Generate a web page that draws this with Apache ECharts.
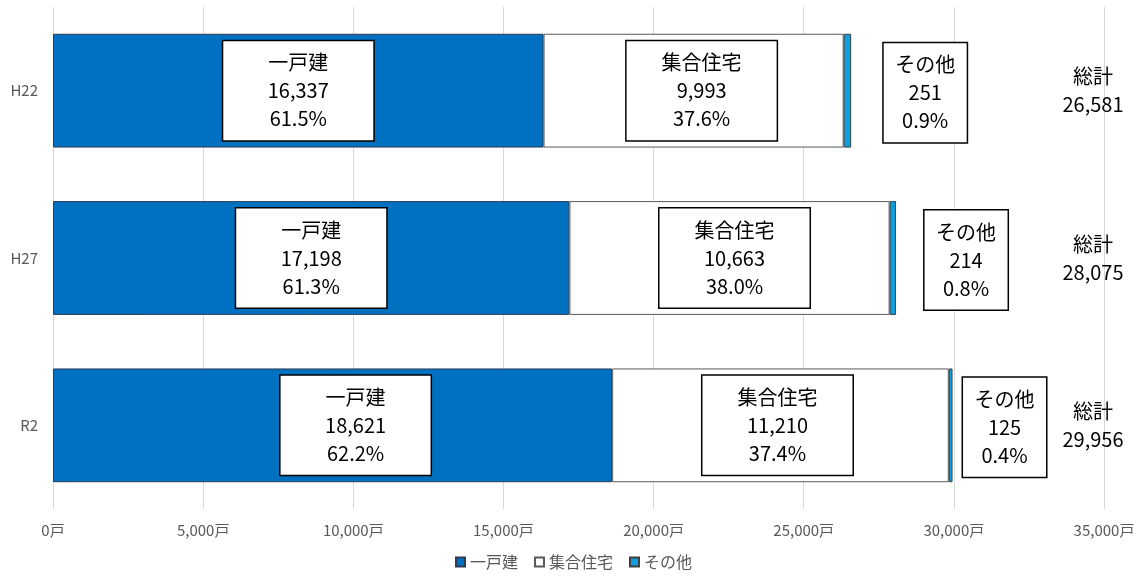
<!DOCTYPE html>
<html>
<head>
<meta charset="utf-8">
<script src="https://cdn.jsdelivr.net/npm/echarts@6/dist/echarts.min.js"></script>
<style>
  html, body { margin: 0; padding: 0; background: #fff; }
  #main { width: 1147px; height: 577px; }
</style>
</head>
<body>
<div id="main"></div>
<script>
// 年度
const categories = ['H22', 'H27', 'R2']
// 一戸建・集合住宅・その他 (戸)
const detached = [16337, 17198, 18621]
const apartment = [9993, 10663, 11210]
const other = [251, 214, 125]
const xTicks = [0, 5000, 10000, 15000, 20000, 25000, 30000, 35000]

// label nudges (px)
const detachedShift = [0, 0, 23]
const apartmentShift = [8, 5, -3]
const otherGap = [32, 28, 10]
const otherBoxW = 84

const totals = categories.map((c, i) => detached[i] + apartment[i] + other[i])
const FONT = '"Noto Sans CJK JP", "Noto Sans", sans-serif'
const fmt = v => v.toLocaleString('en-US')

function boxLabel(name, w) {
    return {
        show: true,
        color: '#000',
        fontFamily: FONT,
        fontSize: 20,
        lineHeight: 28,
        backgroundColor: '#fff',
        borderColor: '#000',
        borderWidth: 1.5,
        width: w,
        height: 84,
        padding: [9, 0, 6, 0],
        align: 'center',
        formatter: p => name + '\n' + fmt(p.value) + '\n' +
            (p.value / totals[p.dataIndex] * 100).toFixed(1) + '%'
    }
}

let myChart = echarts.init(document.getElementById('main'))
let option = {
    backgroundColor: '#fff',
    animation: false,
    grid: {
        left: 53,
        right: 43,
        top: 7,
        bottom: 68
    },
    legend: {
        bottom: 2,
        left: 'center',
        itemWidth: 9,
        itemHeight: 9,
        itemGap: 16,
        icon: 'rect',
        data: ['一戸建', '集合住宅', 'その他'],
        textStyle: { color: '#595959', fontSize: 16, fontFamily: FONT }
    },
    xAxis: {
        type: 'value',
        min: xTicks[0],
        max: xTicks[xTicks.length - 1],
        interval: 5000,
        axisLine: { show: false },
        axisTick: { show: false },
        splitLine: { lineStyle: { color: '#D9D9D9', width: 1 } },
        axisLabel: {
            color: '#595959',
            fontSize: 15,
            fontFamily: FONT,
            margin: 14,
            formatter: v => fmt(v) + '戸'
        }
    },
    yAxis: [
        {
            type: 'category',
            data: categories,
            inverse: true,
            axisLine: { show: false },
            axisTick: { show: false },
            axisLabel: { color: '#595959', fontSize: 15, fontFamily: FONT, margin: 15 }
        },
        {
            type: 'category',
            data: categories,
            inverse: true,
            position: 'right',
            axisLine: { show: false },
            axisTick: { show: false },
            axisLabel: {
                inside: true,
                margin: 11,
                align: 'center',
                color: '#000',
                fontSize: 20,
                lineHeight: 28,
                fontFamily: FONT,
                formatter: (v, i) => '総計\n' + fmt(totals[i])
            }
        }
    ],
    series: [
        {
            name: '一戸建',
            type: 'bar',
            stack: 'all',
            barWidth: '68%',
            itemStyle: { color: '#0070C0', borderColor: '#2E3B55', borderWidth: 1 },
            label: boxLabel('一戸建', 150),
            data: detached.map((v, i) => ({
                value: v,
                label: { position: 'inside', offset: [detachedShift[i], 0] }
            }))
        },
        {
            name: '集合住宅',
            type: 'bar',
            stack: 'all',
            itemStyle: { color: '#FFFFFF', borderColor: '#595959', borderWidth: 1 },
            label: boxLabel('集合住宅', 150),
            data: apartment.map((v, i) => ({
                value: v,
                label: { position: 'inside', offset: [apartmentShift[i], 0] }
            }))
        },
        {
            name: 'その他',
            type: 'bar',
            stack: 'all',
            itemStyle: { color: '#0B9FDD', borderColor: '#3F3F3F', borderWidth: 1 },
            label: boxLabel('その他', otherBoxW - 1),
            data: other.map((v, i) => ({
                value: v,
                label: { position: 'right', distance: 0, offset: [otherGap[i] + otherBoxW / 2, 2] }
            }))
        }
    ]
}
myChart.setOption(option)
</script>
</body>
</html>
